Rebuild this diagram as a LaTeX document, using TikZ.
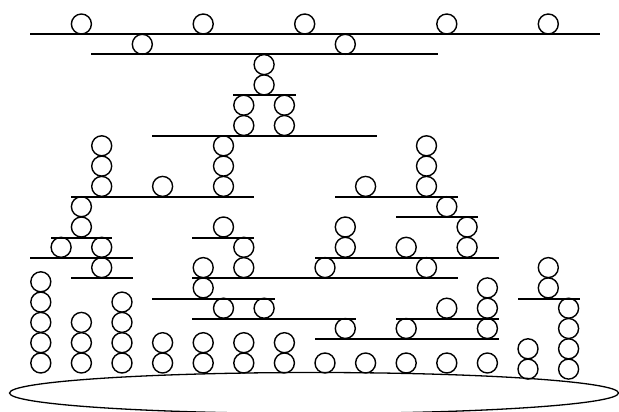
\documentclass[tikz,border=0pt]{standalone}
\begin{document}
\begin{tikzpicture}[x=1pt,y=-1pt,
  ball/.style={circle,draw,line width=1.4pt,minimum size=20pt,inner sep=0pt},
  shelf/.style={line width=1.7pt},
  base/.style={line width=1.3pt}]
\useasboundingbox (0,0) rectangle (619,412);
% shelves
\foreach \y/\a/\b in {34/30/600, 54/91/438, 95/233/296, 136/152/377,
  197/71/254, 197/335/458, 217/396/478, 238/51/112, 238/192/254,
  258/30/133, 258/315/499, 278/71/133, 278/192/458, 299/152/275,
  299/518/580, 319/192/356, 319/396/499, 339/315/499}
  \draw[shelf] (\a,\y) -- (\b,\y);
% base ellipse
\node[draw=none,inner sep=0pt] (basec) at (314,393) {};
\draw[base] (basec) ellipse[x radius=304.5, y radius=20.5];
% balls on the grid
\foreach \c/\r [count=\i] in {2/0,8/0,13/0,20/0,25/0,
  5/1,15/1, 11/2, 11/3, 10/4,12/4, 10/5,12/5,
  3/6,9/6,19/6, 3/7,9/7,19/7, 3/8,6/8,9/8,16/8,19/8,
  2/9,20/9, 2/10,9/10,15/10,21/10,
  1/11,3/11,10/11,15/11,18/11,21/11,
  3/12,8/12,10/12,14/12,19/12,25/12,
  8/13,22/13,25/13, 9/14,11/14,20/14,22/14,26/14,
  15/15,18/15,22/15,26/15, 24/16,26/16, 24/17,26/17}
  \node[ball] (b\i) at ({40.8+20.3*\c},{24+20.3*\r}) {};
% bottom stacks resting on the base
\foreach \c/\n in {0/5,2/3,4/4,6/2,8/2,10/2,12/2,14/1,16/1,18/1,20/1,22/1}
  \foreach \k in {1,...,\n}
    \node[ball] (s\c-\k) at ({40.8+20.3*\c},{363-20.3*(\k-1)}) {};
\end{tikzpicture}
\end{document}
